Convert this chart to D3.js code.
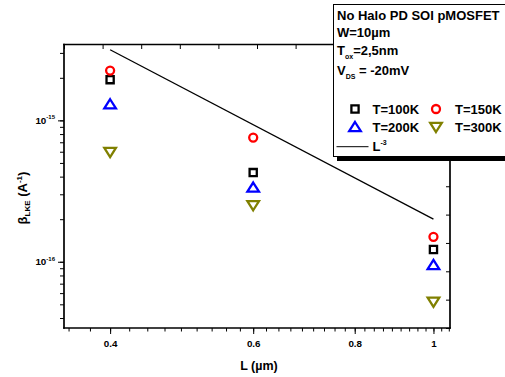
<!DOCTYPE html>
<html><head><meta charset="utf-8">
<script src="https://cdn.jsdelivr.net/npm/d3@7"></script>
<style>
body{margin:0;background:#fff;}
svg text{font-family:"Liberation Sans",Arial,sans-serif;font-weight:bold;fill:#000;}
</style></head>
<body><svg id="c" width="505" height="377"></svg>
<script>
const lengths = [0.4, 0.6, 1.0];
const seriesNames = ["T=100K", "T=150K", "T=200K", "T=300K"];
const beta100 = [1.94e-15, 4.27e-16, 1.22e-16];
const beta150 = [2.25e-15, 7.55e-16, 1.50e-16];
const beta200 = [1.30e-15, 3.35e-16, 9.5e-17];
const beta300 = [5.97e-16, 2.51e-16, 5.2e-17];
const fitL = [0.4, 1.0];
const fitBeta = [3.16e-15, 2.0e-16];
const xTickValues = [0.4, 0.6, 0.8, 1];
const xTickLabels = ["0.4", "0.6", "0.8", "1"];
const yMajorValues = [1e-15, 1e-16];
const yMajorExps = ["-15", "-16"];

const svg = d3.select("#c");
const L = 64, R = 450, T = 44.5, B = 328;
const x = d3.scaleLog().domain([0.351, 1.048]).range([L, R]);
const y = d3.scaleLog().domain([3.4e-17, 3.44e-15]).range([B, T]);

// minor ticks
const xMinor = d3.range(-2, 30).map(i => 0.4 + i * 0.2 / 9).filter(v => v >= x.domain()[0] && v <= x.domain()[1]);
const yMinor = [];
[-17, -16, -15].forEach(e => { for (let m = 1; m <= 9; m++) { const v = m * Math.pow(10, e); if (v >= y.domain()[0] && v <= y.domain()[1]) yMinor.push(v); } });

const g = svg.append("g");
// bottom axis
const xAxis = d3.axisBottom(x).tickValues(xMinor).tickSize(3.5).tickFormat("");
g.append("g").attr("transform", `translate(0,${B})`).call(xAxis);
const xMaj = d3.axisBottom(x).tickValues(xTickValues).tickSize(6).tickPadding(6)
  .tickFormat((d, i) => xTickLabels[i]);
const gx = g.append("g").attr("transform", `translate(0,${B})`).call(xMaj);
gx.selectAll("text").style("font-size", "9.8px").attr("fill", "#000").attr("font-family", null);

// left axis
g.append("g").attr("transform", `translate(${L},0)`).call(d3.axisLeft(y).tickValues(yMinor).tickSize(4).tickFormat(""));
g.append("g").attr("transform", `translate(${L},0)`).call(d3.axisLeft(y).tickValues(yMajorValues).tickSize(6).tickFormat(""));
yMajorValues.forEach((v, i) => {
  const t = g.append("text").attr("x", 55).attr("y", y(v) + 3.5).attr("text-anchor", "end").style("font-size", "9.8px");
  t.append("tspan").text("10");
  t.append("tspan").attr("dy", -4.5).style("font-size", "6px").text(yMajorExps[i]);
});

// top and right axes (equal-spaced inner ticks)
const xt = d3.scaleLinear().domain([0, 10]).range([L, R]);
const yr = d3.scaleLinear().domain([0, 10]).range([B, T]);
g.append("g").attr("transform", `translate(0,${T})`).call(d3.axisBottom(xt).ticks(10).tickSize(4.5).tickFormat(""));
g.append("g").attr("transform", `translate(${R},0)`).call(d3.axisLeft(yr).ticks(10).tickSize(4).tickFormat(""));

g.selectAll(".tick line").attr("stroke", "#000").attr("stroke-width", 1);
g.selectAll("path.domain").remove();
const frame = [[L, T, R, T], [R, T, R, B], [L, B, R, B], [L, T, L, B]];
frame.forEach(f => g.append("line").attr("x1", f[0]).attr("y1", f[1]).attr("x2", f[2]).attr("y2", f[3])
  .attr("stroke", "#000").attr("stroke-width", 1.7).attr("stroke-linecap", "square"));

// fit line
svg.append("path").datum(fitL.map((l, i) => [l, fitBeta[i]]))
  .attr("d", d3.line().x(d => x(d[0])).y(d => y(d[1])))
  .attr("fill", "none").attr("stroke", "#000").attr("stroke-width", 1.3);

// markers
const shapes = {
  square: "M-3.6,-3.6H3.6V3.6H-3.6Z",
  circle: "M4,0A4,4 0 1,1 -4,0A4,4 0 1,1 4,0Z",
  up: "M0,-5L5.8,4.2H-5.8Z",
  down: "M0,5L5.8,-4.2H-5.8Z"
};
const series = [
  {vals: beta100, shape: "square", color: "#000000"},
  {vals: beta150, shape: "circle", color: "#ff0000"},
  {vals: beta200, shape: "up", color: "#0000ff"},
  {vals: beta300, shape: "down", color: "#808000"}
];
series.forEach(s => {
  svg.append("g").selectAll("path").data(s.vals.map((v, i) => [lengths[i], v])).join("path")
    .attr("transform", d => `translate(${x(d[0])},${y(d[1])})`)
    .attr("d", shapes[s.shape]).attr("fill", "none").attr("stroke", s.color).attr("stroke-width", 2.3);
});

// axis titles
svg.append("text").attr("x", 259).attr("y", 370).attr("text-anchor", "middle").style("font-size", "12.5px").text("L (µm)");
const yt = svg.append("text").attr("transform", "translate(27,198) rotate(-90)").attr("text-anchor", "middle").style("font-size", "13px");
yt.append("tspan").text("β");
yt.append("tspan").attr("dy", 3).style("font-size", "8px").text("LKE");
yt.append("tspan").attr("dy", -3).text(" (A");
yt.append("tspan").attr("dy", -5.5).style("font-size", "8px").text("-1");
yt.append("tspan").attr("dy", 5.5).text(")");

// legend box
const lg = svg.append("g");
lg.append("rect").attr("x", 337).attr("y", 8).attr("width", 180).attr("height", 153).attr("fill", "#000");
lg.append("rect").attr("x", 333.5).attr("y", 4.5).attr("width", 180).attr("height", 152).attr("fill", "#fff").attr("stroke", "#000").attr("stroke-width", 1);
const fs = "13px";
lg.append("text").attr("x", 337).attr("y", 20).style("font-size", fs).text("No Halo PD SOI pMOSFET");
lg.append("text").attr("x", 337).attr("y", 37).style("font-size", fs).text("W=10µm");
const t2 = lg.append("text").attr("x", 337).attr("y", 54.5).style("font-size", fs);
t2.append("tspan").text("T");
t2.append("tspan").attr("dy", 4).style("font-size", "7px").text("ox");
t2.append("tspan").attr("dy", -4).text("=2,5nm");
const t3 = lg.append("text").attr("x", 337).attr("y", 75).style("font-size", fs);
t3.append("tspan").text("V");
t3.append("tspan").attr("dy", 4).style("font-size", "7px").text("DS");
t3.append("tspan").attr("dy", -4).text(" = -20mV");

const legPos = [[355, 109, 372.5], [436, 109, 455], [355, 127, 372.5], [436, 127, 455]];
series.forEach((s, i) => {
  const p = legPos[i];
  lg.append("path").attr("transform", `translate(${p[0]},${p[1]})`).attr("d", shapes[s.shape])
    .attr("fill", "none").attr("stroke", s.color).attr("stroke-width", 2.3);
  lg.append("text").attr("x", p[2]).attr("y", p[1] + 4.7).style("font-size", fs).text(seriesNames[i]);
});
lg.append("line").attr("x1", 336.5).attr("x2", 368.5).attr("y1", 146.7).attr("y2", 146.7).attr("stroke", "#000").attr("stroke-width", 1);
const t4 = lg.append("text").attr("x", 372.5).attr("y", 151).style("font-size", fs);
t4.append("tspan").text("L");
t4.append("tspan").attr("dy", -6).style("font-size", "7px").text("-3");
</script></body></html>
